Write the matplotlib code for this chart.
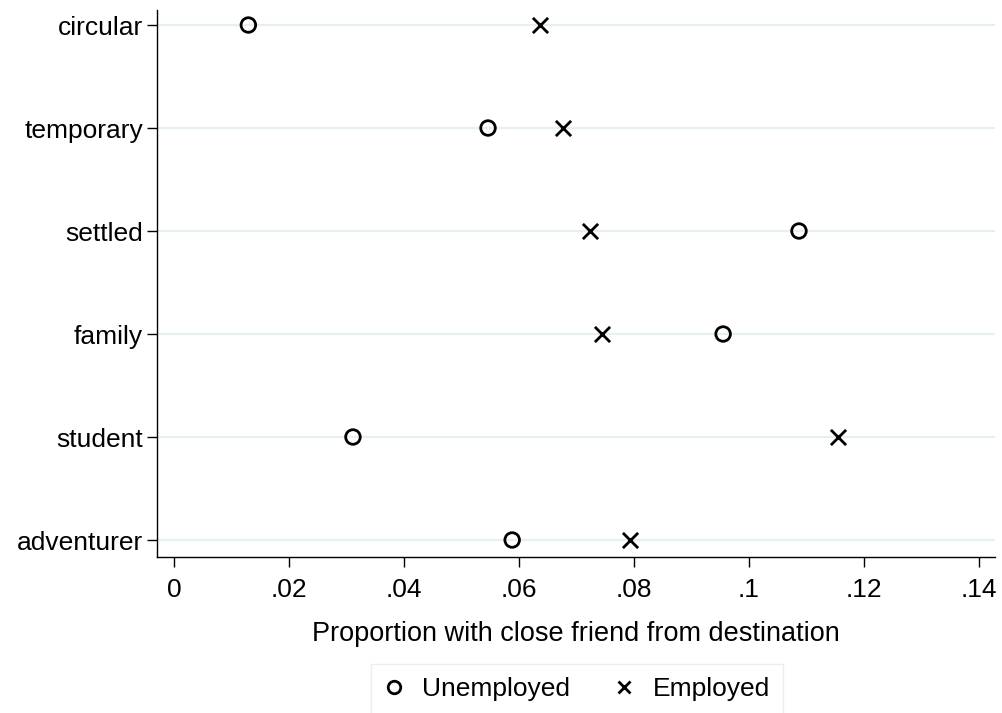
import numpy as np
import matplotlib
matplotlib.use("Agg")
import matplotlib.pyplot as plt
from matplotlib.lines import Line2D

plt.rcParams['font.family'] = ['Liberation Sans', 'DejaVu Sans']

categories = ['adventurer', 'student', 'family', 'settled', 'temporary', 'circular']
unemployed = [0.0588, 0.0311, 0.0955, 0.1087, 0.0546, 0.0129]
employed = [0.0793, 0.1155, 0.0744, 0.0723, 0.0677, 0.0637]
xticks = [0, 0.02, 0.04, 0.06, 0.08, 0.1, 0.12, 0.14]
xtick_labels = ['0', '.02', '.04', '.06', '.08', '.1', '.12', '.14']

fig = plt.figure(figsize=(10.03, 7.13), dpi=100)
ax = fig.add_axes([0.1565, 0.2188, 0.8355, 0.7672])

ypos = np.arange(len(categories))
for y in ypos:
    ax.axhline(y, color='#e8eff1', lw=1.6, zorder=0)

ax.scatter(unemployed, ypos, s=110, facecolors='none', edgecolors='black',
           linewidths=2, marker='o', zorder=3)
ax.scatter(employed, ypos, s=120, c='black', linewidths=2, marker='x', zorder=3)

ax.set_xlim(-0.003, 0.1428)
ax.set_ylim(-0.165, 5.146)
ax.set_yticks(ypos)
ax.set_yticklabels(categories)
ax.set_xticks(xticks)
ax.set_xticklabels(xtick_labels)
ax.tick_params(axis='both', labelsize=19, length=7, width=1.0, color='black')
ax.tick_params(axis='x', pad=8)
ax.tick_params(axis='y', pad=3)
for s in ['top', 'right']:
    ax.spines[s].set_visible(False)
for s in ['left', 'bottom']:
    ax.spines[s].set_linewidth(1.0)

ax.set_xlabel('Proportion with close friend from destination', fontsize=19.5, labelpad=14)

handles = [
    Line2D([], [], marker='o', ls='none', mfc='none', mec='black', mew=2, ms=9),
    Line2D([], [], marker='x', ls='none', color='black', mew=2, ms=9),
]
leg = fig.legend(handles, ['Unemployed', 'Employed'], loc='upper center',
                 bbox_to_anchor=(0.575, 0.0687), ncol=2, fontsize=19,
                 frameon=True, fancybox=False, edgecolor='#e3ecee',
                 handlelength=0.8, handletextpad=0.66, columnspacing=1.65,
                 borderpad=0.5, borderaxespad=0.0)
leg.get_frame().set_linewidth(1.0)

fig.savefig('out.png', dpi=100)
